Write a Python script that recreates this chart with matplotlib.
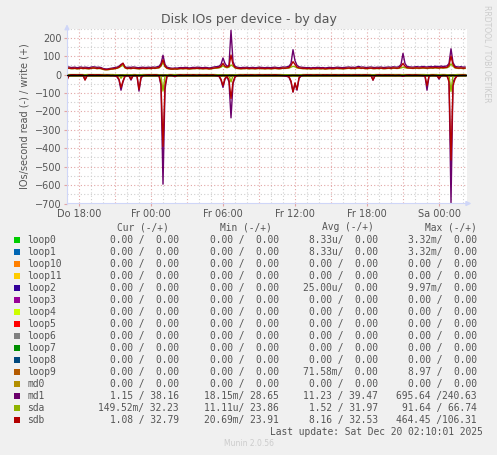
import numpy as np
import matplotlib
matplotlib.use("Agg")
import matplotlib.pyplot as plt

# hours since Do 17:00, one sample every 10 minutes (up to Sa 02:10)
hours = np.arange(200) / 6.0

md1_write = [40, 41, 38, 39, 40, 37, 39, 41, 38, 40, 39, 37, 40, 42, 41, 39, 40, 38, 33, 31,
             30, 32, 34, 36, 38, 40, 45, 55, 60, 42, 38, 40, 39, 41, 40, 38, 37, 39, 40, 38,
             39, 40, 38, 41, 39, 42, 44, 60, 105, 55, 40, 37, 35, 34, 36, 35, 37, 38, 37, 39,
             38, 36, 37, 39, 38, 40, 39, 38, 37, 39, 38, 36, 37, 40, 42, 43, 45, 55, 90, 60,
             45, 50, 240, 70, 45, 40, 38, 37, 39, 38, 40, 37, 38, 39, 37, 38, 40, 39, 38, 37,
             39, 38, 37, 39, 40, 38, 37, 39, 41, 40, 42, 45, 60, 135, 75, 50, 42, 40, 39, 38,
             37, 38, 36, 38, 37, 39, 38, 37, 38, 36, 37, 39, 38, 37, 38, 40, 39, 38, 37, 39,
             40, 41, 39, 40, 38, 42, 44, 40, 41, 39, 38, 40, 41, 39, 38, 40, 39, 41, 38, 39,
             40, 41, 39, 42, 41, 40, 43, 55, 115, 60, 44, 42, 41, 40, 42, 43, 41, 42, 44, 42,
             41, 43, 44, 42, 45, 44, 43, 46, 44, 45, 47, 60, 140, 65, 45, 42, 41, 43, 40, 41]
sdb_write = [34, 35, 33, 33, 34, 32, 33, 35, 33, 34, 33, 32, 34, 36, 35, 33, 34, 33, 29, 27,
             27, 28, 30, 31, 33, 35, 40, 50, 62, 38, 33, 34, 33, 35, 34, 33, 32, 33, 34, 33,
             33, 34, 33, 35, 34, 36, 38, 50, 80, 45, 35, 32, 30, 30, 31, 30, 32, 33, 32, 33,
             33, 31, 32, 33, 33, 34, 33, 33, 32, 33, 33, 31, 32, 34, 36, 37, 39, 45, 60, 45,
             40, 45, 106, 55, 38, 34, 33, 32, 33, 33, 34, 32, 33, 33, 32, 33, 34, 33, 33, 32,
             33, 33, 32, 33, 34, 33, 32, 33, 35, 34, 36, 38, 50, 70, 55, 40, 36, 34, 33, 33,
             32, 33, 31, 33, 32, 33, 33, 32, 33, 31, 32, 33, 33, 32, 33, 34, 33, 33, 32, 33,
             34, 35, 33, 34, 33, 36, 37, 34, 35, 33, 33, 34, 35, 33, 33, 34, 33, 35, 33, 33,
             34, 35, 33, 36, 35, 34, 36, 45, 60, 45, 37, 36, 35, 34, 36, 36, 35, 36, 37, 36,
             35, 36, 37, 36, 38, 37, 36, 38, 37, 38, 39, 50, 100, 55, 38, 36, 35, 36, 34, 35]
sda_write = [33, 34, 32, 32, 33, 31, 32, 34, 32, 33, 32, 31, 33, 35, 34, 32, 33, 32, 28, 26,
             26, 27, 29, 30, 32, 34, 38, 45, 50, 36, 32, 33, 32, 34, 33, 32, 31, 32, 33, 32,
             32, 33, 32, 34, 33, 35, 36, 45, 66, 42, 33, 31, 29, 29, 30, 29, 31, 32, 31, 32,
             32, 30, 31, 32, 32, 33, 32, 32, 31, 32, 32, 30, 31, 33, 34, 35, 36, 40, 48, 40,
             37, 40, 52, 45, 36, 33, 32, 31, 32, 32, 33, 31, 32, 32, 31, 32, 33, 32, 32, 31,
             32, 32, 31, 32, 33, 32, 31, 32, 34, 33, 34, 35, 40, 45, 42, 36, 34, 33, 32, 32,
             31, 32, 30, 32, 31, 32, 32, 31, 32, 30, 31, 32, 32, 31, 32, 33, 32, 32, 31, 32,
             33, 34, 32, 33, 32, 34, 35, 33, 34, 32, 32, 33, 34, 32, 32, 33, 32, 34, 32, 32,
             33, 34, 32, 34, 34, 33, 34, 36, 40, 37, 35, 34, 34, 33, 34, 34, 33, 34, 35, 34,
             33, 34, 35, 34, 36, 35, 34, 36, 35, 36, 37, 42, 58, 45, 36, 34, 33, 34, 32, 33]
md1_read = [25, 6, 2, 1, 2, 3, 1, 2, 3, 28, 8, 2, 1, 2, 3, 2, 1, 3, 4, 5,
            3, 4, 6, 5, 8, 12, 30, 85, 40, 10, 5, 8, 30, 6, 4, 8, 90, 20, 6, 4,
            3, 2, 4, 3, 2, 3, 6, 60, 595, 80, 10, 4, 3, 6, 12, 5, 3, 2, 4, 3,
            2, 3, 4, 2, 3, 5, 2, 3, 4, 3, 2, 4, 3, 2, 5, 6, 10, 30, 70, 25,
            12, 40, 235, 50, 15, 6, 4, 3, 5, 2, 3, 4, 2, 3, 4, 3, 2, 3, 4, 2,
            3, 2, 4, 3, 2, 3, 4, 5, 6, 8, 10, 15, 40, 95, 50, 85, 20, 8, 4, 3,
            2, 3, 2, 4, 3, 2, 3, 4, 2, 3, 2, 3, 4, 3, 2, 3, 4, 2, 3, 2,
            3, 2, 4, 3, 2, 3, 2, 4, 3, 2, 3, 4, 5, 30, 6, 3, 2, 3, 4, 2,
            3, 2, 4, 3, 5, 4, 3, 5, 10, 5, 3, 2, 3, 4, 2, 3, 4, 5, 6, 8,
            85, 10, 4, 3, 5, 6, 25, 8, 4, 5, 8, 30, 695, 40, 20, 8, 5, 4, 3, 4]
sdb_read = [30, 5, 1, 1, 1, 2, 1, 1, 2, 30, 6, 1, 1, 1, 2, 1, 1, 2, 3, 4,
            2, 3, 5, 4, 6, 10, 25, 70, 35, 8, 4, 6, 25, 5, 3, 6, 80, 15, 5, 3,
            2, 1, 3, 2, 1, 2, 5, 50, 390, 60, 8, 3, 2, 5, 10, 4, 2, 1, 3, 2,
            1, 2, 3, 1, 2, 4, 1, 2, 3, 2, 1, 3, 2, 1, 4, 5, 8, 25, 60, 20,
            10, 30, 130, 40, 12, 5, 3, 2, 4, 1, 2, 3, 1, 2, 3, 2, 1, 2, 3, 1,
            2, 1, 3, 2, 1, 2, 3, 4, 5, 6, 8, 12, 35, 94, 45, 80, 18, 6, 3, 2,
            1, 2, 1, 3, 2, 1, 2, 3, 1, 2, 1, 2, 3, 2, 1, 2, 3, 1, 2, 1,
            2, 1, 3, 2, 1, 2, 1, 3, 2, 1, 2, 3, 4, 30, 5, 2, 1, 2, 3, 1,
            2, 1, 3, 2, 4, 3, 2, 4, 8, 4, 2, 1, 2, 3, 1, 2, 3, 4, 5, 6,
            60, 8, 3, 2, 4, 5, 20, 6, 3, 4, 6, 40, 464, 60, 25, 6, 4, 3, 2, 3]
sda_read = [2, 0, 0, 0, 0, 0, 0, 0, 0, 2, 0, 0, 0, 0, 0, 0, 0, 0, 0, 0,
            0, 0, 0, 0, 1, 2, 3, 20, 5, 1, 0, 1, 3, 0, 0, 1, 5, 1, 0, 0,
            0, 0, 0, 0, 0, 0, 1, 8, 90, 10, 1, 0, 0, 0, 1, 0, 0, 0, 0, 0,
            0, 0, 0, 0, 0, 0, 0, 0, 0, 0, 0, 0, 0, 0, 0, 1, 2, 3, 8, 3,
            2, 5, 40, 6, 2, 1, 0, 0, 0, 0, 0, 0, 0, 0, 0, 0, 0, 0, 0, 0,
            0, 0, 0, 0, 0, 0, 0, 0, 1, 1, 1, 2, 4, 10, 5, 6, 2, 1, 0, 0,
            0, 0, 0, 0, 0, 0, 0, 0, 0, 0, 0, 0, 0, 0, 0, 0, 0, 0, 0, 0,
            0, 0, 0, 0, 0, 0, 0, 0, 0, 0, 0, 0, 0, 3, 0, 0, 0, 0, 0, 0,
            0, 0, 0, 0, 0, 0, 0, 0, 1, 0, 0, 0, 0, 0, 0, 0, 0, 0, 0, 0,
            4, 1, 0, 0, 0, 0, 2, 0, 0, 0, 1, 3, 92, 8, 2, 0, 0, 0, 0, 0]

names = ["loop0", "loop1", "loop10", "loop11", "loop2", "loop3", "loop4", "loop5",
         "loop6", "loop7", "loop8", "loop9", "md0", "md1", "sda", "sdb"]
colors = ["#00CC00", "#0066B3", "#FF8000", "#FFCC00", "#330099", "#990099", "#CCFF00", "#FF0000",
          "#808080", "#008F00", "#00487D", "#B35A00", "#B38F00", "#6B006B", "#8FB300", "#B30000"]
cur = ["0.00 /  0.00"] * 13 + ["1.15 / 38.16", "149.52m/ 32.23", "1.08 / 32.79"]
mins = ["0.00 /  0.00"] * 13 + ["18.15m/ 28.65", "11.11u/ 23.86", "20.69m/ 23.91"]
avgs = (["8.33u/  0.00", "8.33u/  0.00", "0.00 /  0.00", "0.00 /  0.00", "25.00u/  0.00"]
        + ["0.00 /  0.00"] * 6 + ["71.58m/  0.00", "0.00 /  0.00",
           "11.23 / 39.47", "1.52 / 31.97", "8.16 / 32.53"])
maxs = (["3.32m/  0.00", "3.32m/  0.00", "0.00 /  0.00", "0.00 /  0.00", "9.97m/  0.00"]
        + ["0.00 /  0.00"] * 6 + ["8.97 /  0.00", "0.00 /  0.00",
           "695.64 /240.63", "91.64 / 66.74", "464.45 /106.31"])

xtick_hours = [1, 7, 13, 19, 25, 31]
xtick_labels = ["Do 18:00", "Fr 00:00", "Fr 06:00", "Fr 12:00", "Fr 18:00", "Sa 00:00"]

W, H = 497, 455
TXT = "#555555"
AXC = "#CFD6F8"
MAJ = "#E2A6A6"
MIN = "#CFCFCF"


def fx(x):
    return x / W


def fy(y):
    return 1 - y / H


fig = plt.figure(figsize=(W / 100, H / 100), dpi=100, facecolor="#F0F0F0")
ax = fig.add_axes([fx(67), fy(203.5), 400 / W, 175 / H])
ax.set_facecolor("white")
ax.set_xlim(0, 33.333)
ax.set_ylim(-700, 250)

# grid: minor grey, major red-ish
for h in np.arange(0, 34, 1):
    c = MAJ if h % 3 == 1 else MIN
    ax.axvline(h, color=c, lw=0.8, ls=(0, (1, 2)), zorder=0)
for v in range(-650, 251, 50):
    c = MAJ if v % 100 == 0 else MIN
    ax.axhline(v, color=c, lw=0.8, ls=(0, (1, 2)), zorder=0)

zero = np.zeros(len(hours))
series = {"md1": (md1_read, md1_write), "sda": (sda_read, sda_write), "sdb": (sdb_read, sdb_write)}
for name, col in zip(names, colors):
    rd, wr = series.get(name, (zero, zero))
    ax.plot(hours, -np.asarray(rd, float), color=col, lw=1.0, zorder=2)
    ax.plot(hours, np.asarray(wr, float), color=col, lw=1.0, zorder=2)

ax.axhline(0, color="black", lw=1.0, zorder=3)

for s in ["top", "right"]:
    ax.spines[s].set_visible(False)
for s in ["left", "bottom"]:
    ax.spines[s].set_color(AXC)
ax.annotate("", xy=(0, 1.04), xytext=(0, 0.99), xycoords="axes fraction",
            arrowprops=dict(arrowstyle="-|>", color=AXC, lw=1, mutation_scale=7))
ax.annotate("", xy=(1.018, 0), xytext=(0.99, 0), xycoords="axes fraction",
            arrowprops=dict(arrowstyle="-|>", color=AXC, lw=1, mutation_scale=7))

ax.set_xticks(xtick_hours)
ax.set_xticklabels(xtick_labels)
ax.set_yticks(range(-700, 201, 100))
ax.tick_params(axis="both", labelsize=7, labelcolor=TXT, length=2, color=MAJ, pad=2)

ax.set_ylabel("IOs/second read (-) / write (+)", fontsize=7, color=TXT, labelpad=4)

fig.text(0.5, fy(20), "Disk IOs per device - by day", ha="center", va="center",
         fontsize=9, color=TXT)
fig.text(fx(487), fy(5), "RRDTOOL / TOBI OETIKER", rotation=270, ha="center", va="top",
         fontsize=5.5, color="#CCCCCC")

mono = dict(family="DejaVu Sans Mono", fontsize=6.9, color=TXT, va="center")
for hdr, xr in zip(["Cur (-/+)", "Min (-/+)", "Avg (-/+)", "Max (-/+)"], [169, 272, 374, 477]):
    fig.text(fx(xr), fy(227), hdr, ha="right", **mono)

for i, name in enumerate(names):
    y = 240 + 12 * i
    fig.patches.append(plt.Rectangle((fx(14), fy(y + 3)), 6 / W, 6 / H, transform=fig.transFigure,
                                     facecolor=colors[i], edgecolor="none"))
    fig.text(fx(27), fy(y), name, ha="left", **mono)
    for vals, xr in zip([cur, mins, avgs, maxs], [179, 279, 378, 477]):
        fig.text(fx(xr), fy(y), vals[i], ha="right", **mono)

fig.text(fx(483), fy(432), "Last update: Sat Dec 20 02:10:01 2025", ha="right", **mono)
fig.text(0.5, fy(444), "Munin 2.0.56", ha="center", va="center", fontsize=5.5, color="#CCCCCC")

fig.savefig("out.png", dpi=100, facecolor=fig.get_facecolor())
